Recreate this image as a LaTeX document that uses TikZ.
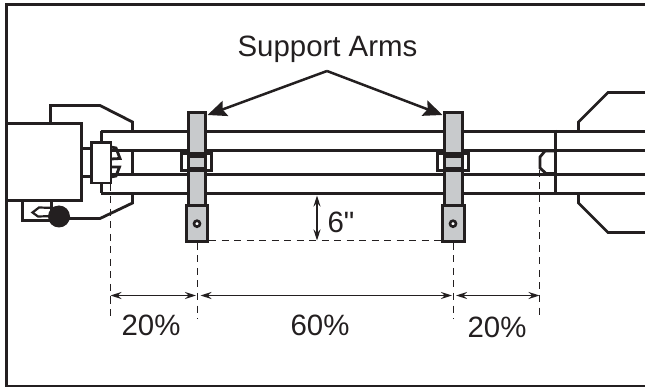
\documentclass[tikz,border=0pt]{standalone}
\usepackage{fontspec}
\newfontfamily\labfont{Liberation Sans}
\usetikzlibrary{arrows.meta}
\definecolor{ink}{HTML}{231F20}
\definecolor{armgray}{HTML}{C8CACC}
\tikzset{
  ln/.style={draw=ink,line width=2.8pt,line join=miter},
  thin ln/.style={draw=ink,line width=2.2pt},
  arm/.style={draw=ink,line width=3pt,fill=armgray},
  dashline/.style={draw=ink,line width=1.5pt,dash pattern=on 7pt off 5.5pt},
  dim/.style={draw=ink,line width=1.3pt,{Stealth[length=11pt,width=7pt]}-{Stealth[length=11pt,width=7pt]}},
  pointer/.style={draw=ink,line width=2.5pt,-{Stealth[length=19pt,width=16pt,inset=3pt]}},
  lab/.style={text=ink,inner sep=0pt,font=\labfont\fontsize{29.4}{29.4}\selectfont}
}
\begin{document}
\begin{tikzpicture}[x=1pt,y=-1pt]
\useasboundingbox (0,0) rectangle (645,387);
\fill[white] (0,0) rectangle (645,387);
% frame
\begin{scope}
\clip (0,0) rectangle (645,387);
\draw[draw=ink,line width=3pt] (6,5) rectangle (655,386);
\end{scope}
% rails
\draw[ln] (100.5,131.5) -- (645,131.5);
\draw[ln] (112,150.5) -- (645,150.5);
\draw[ln] (112,174.5) -- (645,174.5);
\draw[ln] (100.5,193.5) -- (645,193.5);
\draw[ln] (101.5,131.5) -- (101.5,193.5);
\draw[ln] (132.5,150) -- (132.5,174.5);
\draw[line width=3.6pt,draw=ink] (555.5,130) -- (555.5,195);
% left machine
\draw[ln] (6,123.5) rectangle (81.5,200.5);
\draw[ln] (50.5,123.5) -- (50.5,105.5) -- (100,105.5) -- (132.5,122) -- (132.5,131.5);
\draw[ln] (132.5,193.5) -- (132.5,203) -- (100,218.5) -- (60,218.5);
\draw[ln] (22.5,200.5) -- (22.5,220.5) -- (55,220.5);
\draw[ln] (51.5,200.5) -- (51.5,212);
\draw[thin ln] (55,208) -- (39,207.5) -- (32.5,212.5) -- (38,216.5) -- (55,216);
\fill[ink] (59,216.5) circle (11);
% clevis
\draw[ln] (81,148.5) -- (91,148.5);
\draw[ln] (81,176.5) -- (91,176.5);
\draw[ln] (111,147) -- (116,148) -- (120,158.5) -- (111,159);
\draw[ln] (111,177) -- (116,176) -- (119.5,167) -- (111,167);
\draw[ln,fill=white] (91.5,142.5) rectangle (111,183);
% right machine
\draw[ln] (578.5,131) -- (578.5,122) -- (608,92.5) -- (645,92.5);
\draw[ln] (578.5,194) -- (578.5,203) -- (608,232.5) -- (645,232.5);
\draw[ln] (555,151) -- (545,151) -- (540,157) -- (540,168) -- (546,173.5) -- (555,173.5);
% support arms
\draw[arm] (188.5,113) rectangle (205.5,206);
\draw[arm] (186.5,206) rectangle (207.5,241.5);
\draw[ln] (181.5,153.5) rectangle (211.5,170.5);
\draw[draw=ink,line width=5pt] (188,155.5) -- (205.5,155.5);
\draw[draw=ink,line width=5pt] (188,169.5) -- (205.5,169.5);
\draw[draw=ink,line width=2.6pt,fill=white] (197,223.7) circle (3);
\draw[arm] (444.5,113) rectangle (462.5,206);
\draw[arm] (442.5,206) rectangle (464,241.5);
\draw[ln] (437.5,153.5) rectangle (468.5,170.5);
\draw[draw=ink,line width=5pt] (443.5,155.5) -- (462.5,155.5);
\draw[draw=ink,line width=5pt] (443.5,169.5) -- (462.5,169.5);
\draw[draw=ink,line width=2.6pt,fill=white] (453,223.7) circle (3);
% coordinates
\coordinate (apex) at (327,71);
\coordinate (tipL) at (207.5,115);
\coordinate (tipR) at (442.5,115);
\coordinate (sixTop) at (317,195.5);
\coordinate (sixBot) at (317,240.5);
\coordinate (d1a) at (110.5,295.5);
\coordinate (d1b) at (196,295.5);
\coordinate (d2a) at (200.5,295.5);
\coordinate (d2b) at (452,295.5);
\coordinate (d3a) at (456,295.5);
\coordinate (d3b) at (539.5,295.5);
% pointers
\draw[pointer,line join=bevel] (apex) -- (tipL);
\draw[pointer,line join=bevel] (apex) -- (tipR);
% dashed
\draw[dashline] (209,240.5) -- (442,240.5);
\draw[dashline] (110.5,184) -- (110.5,319);
\draw[dashline] (197.5,243) -- (197.5,319);
\draw[dashline] (453.5,243) -- (453.5,319);
\draw[dashline] (539.5,170) -- (539.5,319);
% dims
\draw[dim] (sixTop) -- (sixBot);
\draw[dim] (d1a) -- (d1b);
\draw[dim] (d2a) -- (d2b);
\draw[dim] (d3a) -- (d3b);
% labels
\node[lab] (support) at (327.5,49) {Support Arms};
\node[lab] (six) at (341,222) {6"};
\node[lab] (pa) at (151,325.5) {20\%};
\node[lab] (pb) at (320,325) {60\%};
\node[lab] (pc) at (497,327) {20\%};
\end{tikzpicture}
\end{document}
